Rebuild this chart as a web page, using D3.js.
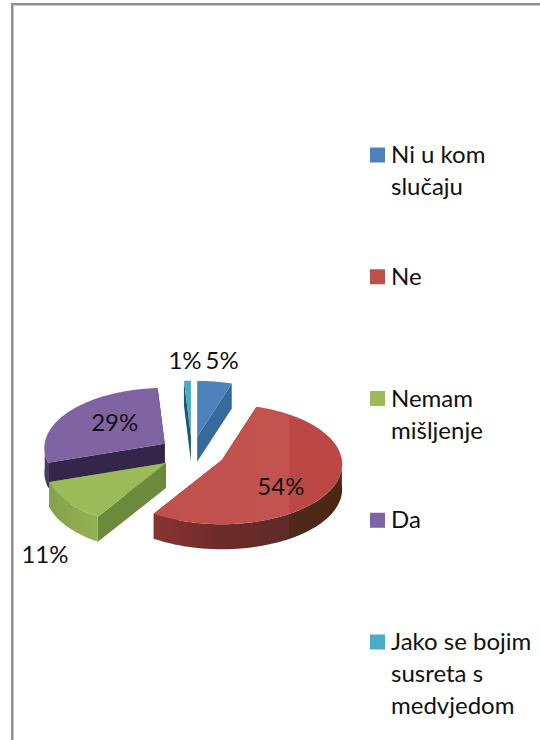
<!DOCTYPE html>
<html>
<head>
<meta charset="utf-8">
<style>
  html, body { margin: 0; padding: 0; background: #fff; }
  svg { display: block; }
  text { font-family: Lato, "Open Sans", sans-serif; fill: #111; }
</style>
</head>
<body>
<div id="chart"></div>
<script src="https://cdn.jsdelivr.net/npm/d3@7"></script>
<script>
// chart values
var categories = ["Ni u kom slučaju", "Ne", "Nemam mišljenje", "Da", "Jako se bojim susreta s medvjedom"];
var values = [5, 54, 11, 29, 1];
var legendLines = [["Ni u kom", "slučaju"], ["Ne"], ["Nemam", "mišljenje"], ["Da"], ["Jako se bojim", "susreta s", "medvjedom"]];

// colours per slice
var topColors = ["#4f81bd", "#c0504d", "#9bbb59", "#8064a2", "#4bacc6"];
var edgeColors = ["#376a9c", "#7a2f2d", "#6c8a3c", "#33264a", "#1c5a6b"];
var rimColors = ["#376a9c", "url(#redRim)", "url(#greenRim)", "#4a3a66", "#2a7f96"];

// hand placed label offsets from the tip of each slice
var labelOffsets = [[25, -77], [59, 25], [-121, 90], [-50, -22], [-6, -77]];

var width = 540, height = 740;
var cx = 192, cy = 453;     // pie centre
var rx = 120, ry = 60;      // squashed pie radii
var tilt = 0.07;            // near side is drawn a bit bigger than the far side
var depth = 25;
var explode = 33;

var svg = d3.select("#chart").append("svg")
  .attr("width", width)
  .attr("height", height);

// frame, only top and left are in the picture
svg.append("rect").attr("x", 11).attr("y", 3).attr("width", 529).attr("height", 2).attr("fill", "#8f8f8f");
svg.append("rect").attr("x", 11).attr("y", 5).attr("width", 529).attr("height", 1).attr("fill", "#d0d0d0");
svg.append("rect").attr("x", 11).attr("y", 3).attr("width", 2).attr("height", 737).attr("fill", "#8f8f8f");
svg.append("rect").attr("x", 13).attr("y", 5).attr("width", 1).attr("height", 735).attr("fill", "#c4c4c4");

// gradients, in the local coordinates of each slice group
var defs = svg.append("defs");
function addGradient(id, x1, x2, stops) {
  var grad = defs.append("linearGradient").attr("id", id)
    .attr("gradientUnits", "userSpaceOnUse")
    .attr("x1", x1).attr("x2", x2).attr("y1", 0).attr("y2", 0);
  stops.forEach(function(s) {
    grad.append("stop").attr("offset", s[0]).attr("stop-color", s[1]);
  });
}
addGradient("redRim", -70, 121, [[0, "#8a3432"], [0.35, "#6e2b2b"], [0.72, "#5e2a28"], [0.72, "#4f2a1a"], [1, "#4a2614"]]);
addGradient("redTop", -70, 121, [[0, "#c0504d"], [0.72, "#c2534f"], [0.72, "#bb4845"], [1, "#bb4845"]]);
addGradient("greenRim", -120, -69, [[0, "#84a04a"], [1, "#94b254"]]);

var pie = d3.pie().sort(null).value(function(d) { return d; });
var slices = pie(values);

// the pie angle starts at 12 o'clock and runs clockwise
function rimPoint(a) {
  var near = 1 - tilt * Math.cos(a);
  return [rx * Math.sin(a) * near, -ry * Math.cos(a) * near];
}

function tipOf(s) {
  var mid = (s.startAngle + s.endAngle) / 2;
  return [cx + explode * Math.sin(mid), cy - explode * (ry / rx) * Math.cos(mid)];
}

function anglesBetween(from, to) {
  return d3.range(from, to, 0.02).concat([to]);
}

var line = d3.line();

// back to front so the near slices cover the far ones
var drawOrder = [3, 4, 0, 2, 1];

drawOrder.forEach(function(i) {
  var s = slices[i];
  var tip = tipOf(s);
  var g = svg.append("g").attr("transform", "translate(" + tip[0] + "," + tip[1] + ")");

  // flat walls along the two cut edges
  [s.startAngle, s.endAngle].forEach(function(a) {
    var p = rimPoint(a);
    g.append("path")
      .attr("d", line([[0, 0], p, [p[0], p[1] + depth], [0, depth]]) + "Z")
      .attr("fill", edgeColors[i]);
  });

  // curved wall, only the part facing the viewer
  var from = Math.max(s.startAngle, Math.PI / 2);
  var to = Math.min(s.endAngle, Math.PI * 1.5);
  if (to > from) {
    var upper = anglesBetween(from, to).map(rimPoint);
    var lower = upper.map(function(p) { return [p[0], p[1] + depth]; }).reverse();
    g.append("path")
      .attr("d", line(upper.concat(lower)) + "Z")
      .attr("fill", rimColors[i]);
  }

  // top surface
  var outline = [[0, 0]].concat(anglesBetween(s.startAngle, s.endAngle).map(rimPoint));
  g.append("path")
    .attr("d", line(outline) + "Z")
    .attr("fill", i === 1 ? "url(#redTop)" : topColors[i]);
});

// percent labels
slices.forEach(function(s, i) {
  var tip = tipOf(s);
  svg.append("text")
    .attr("x", tip[0] + labelOffsets[i][0])
    .attr("y", tip[1] + labelOffsets[i][1])
    .attr("text-anchor", "middle")
    .attr("dominant-baseline", "central")
    .style("font-size", "24px")
    .text(s.data + "%");
});

// legend
var legendY = d3.scalePoint()
  .domain(categories)
  .range([155, 642]);

var legend = svg.selectAll("g.legend")
  .data(categories)
  .enter().append("g")
  .attr("class", "legend")
  .attr("transform", function(d) { return "translate(370," + legendY(d) + ")"; });

legend.append("rect")
  .attr("y", -7.5)
  .attr("width", 15)
  .attr("height", 15)
  .attr("fill", function(d, i) { return topColors[i]; });

legend.each(function(d, i) {
  var item = d3.select(this);
  legendLines[i].forEach(function(t, j) {
    item.append("text")
      .attr("x", 21)
      .attr("y", 8 + j * 32)
      .style("font-size", "24px")
      .text(t);
  });
});
</script>
</body>
</html>
